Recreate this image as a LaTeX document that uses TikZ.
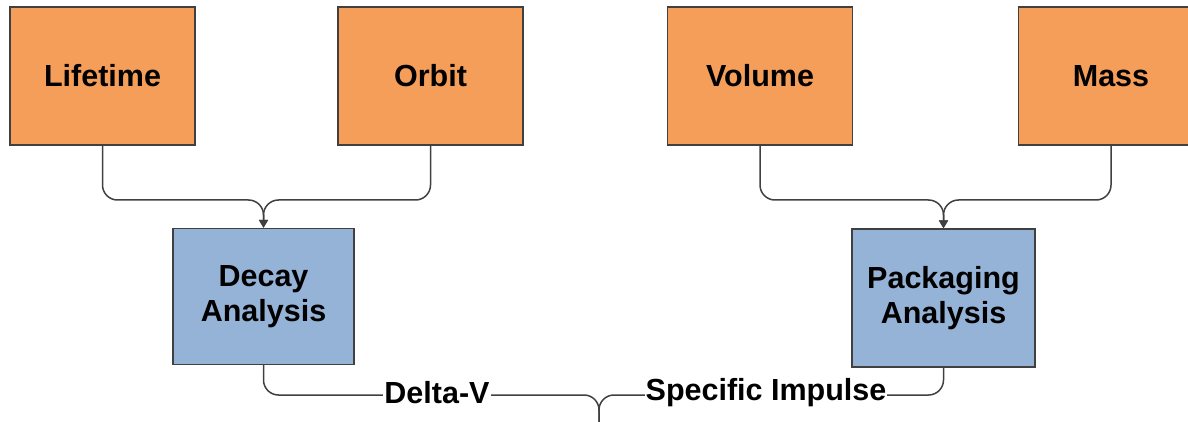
\documentclass[tikz,border=0pt]{standalone}
\usepackage{fontspec}
\setmainfont{Liberation Sans}
\usetikzlibrary{arrows.meta}
\definecolor{boxorange}{RGB}{245,158,89}
\definecolor{boxblue}{RGB}{149,179,215}
\definecolor{edge}{RGB}{64,64,64}
\tikzset{
  x=1pt, y=1pt,
  inbox/.style={draw=edge, line width=1.4pt, fill=boxorange, minimum width=185pt, minimum height=138pt, inner sep=0pt,
    font=\fontsize{30.5}{35}\selectfont\bfseries, align=center},
  anbox/.style={draw=edge, line width=1.4pt, fill=boxblue, minimum width=181pt, minimum height=136pt, inner sep=0pt,
    font=\fontsize{30.5}{35}\selectfont\bfseries, align=center},
  conn/.style={draw=edge, line width=1.5pt, rounded corners=15pt},
  arr/.style={-{Triangle[width=9pt,length=8pt]}},
  lbl/.style={fill=white, inner sep=1pt, font=\fontsize{30.5}{35}\selectfont\bfseries}
}
\begin{document}
\begin{tikzpicture}
\useasboundingbox (0,0) rectangle (1188,-422);
\node[inbox] (life) at (102.5,-76) {Lifetime};
\node[inbox] (orbit) at (430.5,-76) {Orbit};
\node[inbox] (vol) at (760,-76) {Volume};
\node[inbox] (mass) at (1111,-76) {Mass};
\node[anbox] (decay) at (263.5,-296.5) {Decay\\Analysis};
\node[anbox, minimum width=183pt, minimum height=138pt] (pack) at (943.5,-298) {Packaging\\Analysis};
\coordinate (out) at (599,-422);
\draw[conn, arr] (life.south) -- (life.south |- 0,-200) -- (decay.north |- 0,-200) -- (decay.north);
\draw[conn, arr] (orbit.south) -- (orbit.south |- 0,-200) -- (decay.north |- 0,-200) -- (decay.north);
\draw[conn, arr] (vol.south) -- (vol.south |- 0,-200) -- (pack.north |- 0,-200) -- (pack.north);
\draw[conn, arr] (mass.south) -- (mass.south |- 0,-200) -- (pack.north |- 0,-200) -- (pack.north);
\draw[conn] (decay.south) -- (decay.south |- 0,-395) -- (out |- 0,-395) -- (out);
\draw[conn] (pack.south) -- (pack.south |- 0,-395) -- (out |- 0,-395) -- (out);
\node[lbl] (dv) at (437,-393) {Delta-V};
\node[lbl] (isp) at (766,-393) {Specific Impulse};
\end{tikzpicture}
\end{document}
